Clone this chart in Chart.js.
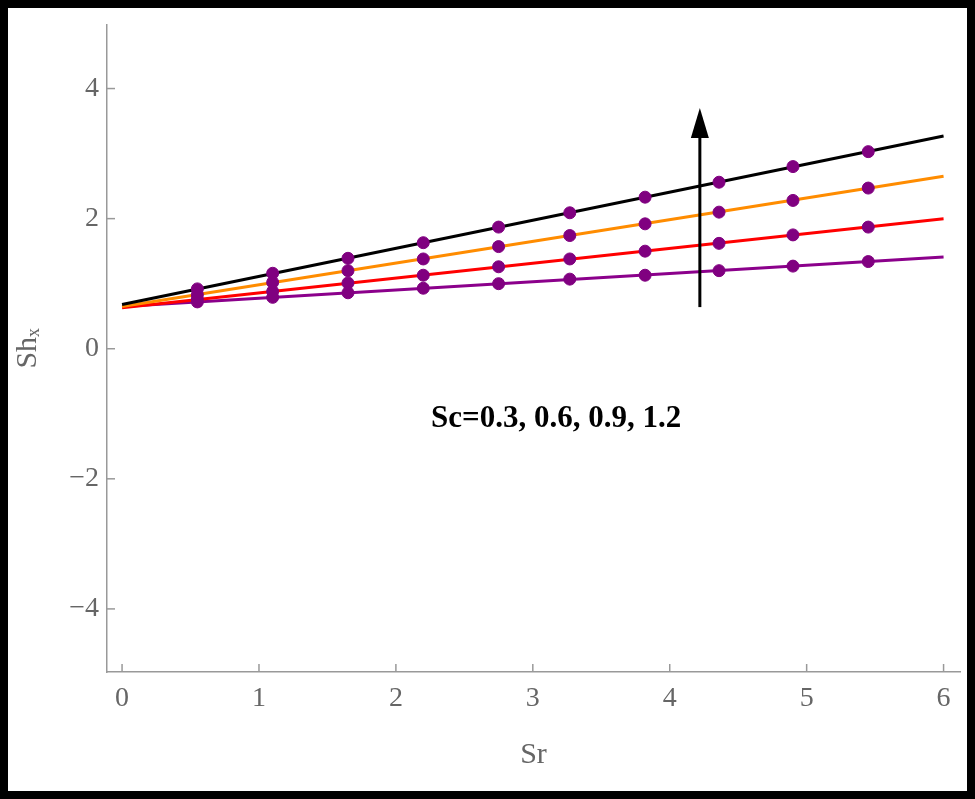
<!DOCTYPE html>
<html>
<head>
<meta charset="utf-8">
<script src="https://cdn.jsdelivr.net/npm/chart.js@4/dist/chart.umd.min.js"></script>
<style>
  html, body { margin: 0; padding: 0; background: #fff; }
  #wrap { position: relative; width: 975px; height: 799px; box-sizing: border-box; border: 8px solid #000; }
  canvas { position: absolute; left: -8px; top: -8px; }
</style>
</head>
<body>
<div id="wrap"><canvas id="c" width="975" height="799"></canvas></div>
<script>
// Sr positions of the marked points
const srPoints = [0.55, 1.1, 1.65, 2.2, 2.75, 3.27, 3.82, 4.36, 4.9, 5.45];
const srEnds = [0, 6];

// Sh_x for Sc = 1.2 (black), 0.9 (orange), 0.6 (red), 0.3 (purple)
const lineEnds = {
  black:  [0.68, 3.27],
  orange: [0.65, 2.65],
  red:    [0.63, 2.00],
  purple: [0.65, 1.41]
};
const dotsBlack  = [0.92, 1.16, 1.39, 1.63, 1.87, 2.09, 2.33, 2.56, 2.80, 3.03];
const dotsOrange = [0.83, 1.02, 1.20, 1.38, 1.57, 1.74, 1.92, 2.10, 2.28, 2.47];
const dotsRed    = [0.76, 0.88, 1.01, 1.13, 1.26, 1.38, 1.50, 1.62, 1.75, 1.87];
const dotsPurple = [0.72, 0.79, 0.86, 0.93, 1.00, 1.07, 1.13, 1.20, 1.27, 1.34];

const xTicks = [0, 1, 2, 3, 4, 5, 6];
const yTicks = [-4, -2, 0, 2, 4];

// arrow and label (data coordinates)
const arrowX = 4.22, arrowFrom = 0.64, arrowTo = 3.7;
const labelText = 'Sc=0.3, 0.6, 0.9, 1.2';
const labelPos = { x: 3.17, y: -1.08 };

const pts = (xs, ys) => xs.map((x, i) => ({ x: x, y: ys[i] }));

function lineSet(vals, color) {
  return { data: pts(srEnds, vals), borderColor: color, borderWidth: 3, pointRadius: 0, showLine: true, order: 2 };
}
function dotSet(vals) {
  return { data: pts(srPoints, vals), backgroundColor: '#800080', borderColor: '#800080', pointRadius: 6, showLine: false, order: 0 };
}

const annot = {
  id: 'annot',
  afterDatasetsDraw(chart) {
    const ctx = chart.ctx, xs = chart.scales.x, ys = chart.scales.y;
    const ax = xs.getPixelForValue(arrowX);
    const y0 = ys.getPixelForValue(arrowFrom), y1 = ys.getPixelForValue(arrowTo);
    ctx.save();
    ctx.strokeStyle = '#000'; ctx.fillStyle = '#000'; ctx.lineWidth = 3;
    ctx.beginPath(); ctx.moveTo(ax, y0); ctx.lineTo(ax, y1 + 20); ctx.stroke();
    ctx.beginPath(); ctx.moveTo(ax, y1); ctx.lineTo(ax - 9, y1 + 30); ctx.lineTo(ax + 9, y1 + 30); ctx.closePath(); ctx.fill();
    ctx.font = 'bold 31px "Liberation Serif", serif';
    ctx.textAlign = 'center'; ctx.textBaseline = 'middle';
    ctx.fillText(labelText, xs.getPixelForValue(labelPos.x), ys.getPixelForValue(labelPos.y));
    // inward tick marks
    ctx.strokeStyle = '#999'; ctx.lineWidth = 1.5;
    xTicks.forEach(v => { const p = xs.getPixelForValue(v); ctx.beginPath(); ctx.moveTo(p, ys.bottom); ctx.lineTo(p, ys.bottom - 8); ctx.stroke(); });
    yTicks.forEach(v => { const p = ys.getPixelForValue(v); ctx.beginPath(); ctx.moveTo(xs.left, p); ctx.lineTo(xs.left + 8, p); ctx.stroke(); });
    ctx.restore();
  }
};

const tickFont = { family: '"Liberation Serif", serif', size: 28 };

new Chart(document.getElementById('c').getContext('2d'), {
  type: 'scatter',
  data: {
    datasets: [
      lineSet(lineEnds.black, '#000000'),
      lineSet(lineEnds.orange, '#ff8c00'),
      lineSet(lineEnds.red, '#ff0000'),
      lineSet(lineEnds.purple, '#8b008b'),
      dotSet(dotsBlack), dotSet(dotsOrange), dotSet(dotsRed), dotSet(dotsPurple)
    ]
  },
  options: {
    responsive: false,
    animation: false,
    layout: { padding: { top: 15, right: 15, left: 6, bottom: 22 } },
    plugins: { legend: { display: false }, tooltip: { enabled: false } },
    scales: {
      x: {
        min: -0.11, max: 6.12,
        afterBuildTicks: s => { s.ticks = xTicks.map(v => ({ value: v })); },
        afterFit: s => { s.height = 105; },
        grid: { drawOnChartArea: false, drawTicks: false },
        border: { color: '#999', width: 1.5 },
        ticks: { color: '#666', font: tickFont, maxRotation: 0, padding: 10 },
        title: { display: true, text: 'Sr', color: '#666', font: { family: '"Liberation Serif", serif', size: 30 }, padding: { top: 16 } }
      },
      y: {
        min: -4.97, max: 4.98,
        afterBuildTicks: s => { s.ticks = yTicks.map(v => ({ value: v })); },
        afterFit: s => { s.width = 101; },
        grid: { drawOnChartArea: false, drawTicks: false },
        border: { color: '#999', width: 1.5 },
        ticks: { color: '#666', font: tickFont, padding: 8, callback: v => (v < 0 ? '\u2212' + (-v) : '' + v) },
        title: { display: true, text: 'Shₓ', color: '#666', font: { family: '"Liberation Serif", serif', size: 30 } }
      }
    }
  },
  plugins: [annot]
});
</script>
</body>
</html>
